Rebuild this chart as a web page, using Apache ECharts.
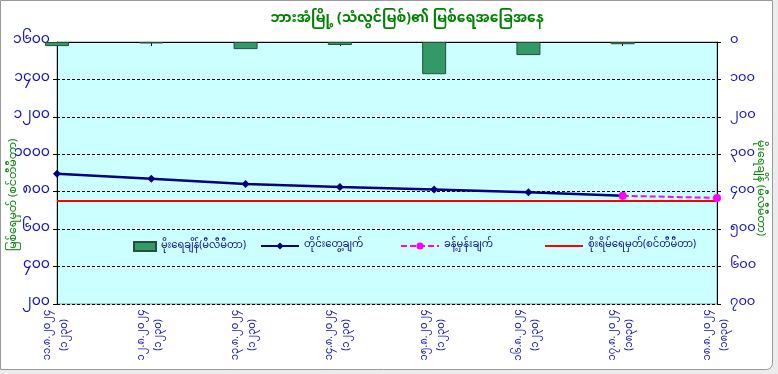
<!DOCTYPE html>
<html>
<head>
<meta charset="utf-8">
<script src="https://cdn.jsdelivr.net/npm/echarts@6/dist/echarts.min.js"></script>
<style>
html,body{margin:0;padding:0;background:#ececec;}
#c{width:778px;height:374px;}
</style>
</head>
<body>
<div id="c"></div>
<script>
// ---- data ----
var dates = ['၁၁.၈.၂၀၂၄','၁၂.၈.၂၀၂၄','၁၃.၈.၂၀၂၄','၁၄.၈.၂၀၂၄','၁၅.၈.၂၀၂၄','၁၆.၈.၂၀၂၄','၁၇.၈.၂၀၂၄','၁၈.၈.၂၀၂၄'];
var times = ['(၁၂၃၀)','(၁၂၃၀)','(၁၂၃၀)','(၁၂၃၀)','(၁၂၃၀)','(၁၂၃၀)','(၁၈၃၀)','(၁၈၃၀)'];
var rainfall = [11, 4, 19, 8, 86, 35, 6, null];
var observed = [896, 869, 841, 825, 812, 797, 778, null];
var forecast = [null, null, null, null, null, null, 778, 767];
var danger = [751, 751, 751, 751, 751, 751, 751, 751];
var seriesNames = ['မိုးရေချိန်(မီလီမီတာ)', 'တိုင်းတွေ့ချက်', 'ခန့်မှန်းချက်', 'စိုးရိမ်ရေမှတ်(စင်တီမီတာ)'];
var titleText = 'ဘားအံမြို့ (သံလွင်မြစ်)၏ မြစ်ရေအခြေအနေ';
var leftAxisName = 'မြစ်ရေမှတ် (စင်တီမီတာ)';
var rightAxisName = 'မိုးရေချိန် (မီလီမီတာ)';

var myDigits = ['၀','၁','၂','၃','၄','၅','၆','၇','၈','၉'];
function toMy(v){ return String(v).replace(/[0-9]/g, function(d){ return myDigits[+d]; }); }
var categories = dates.map(function(d, i){ return d + '\n' + times[i]; });

var FONT = '"Noto Sans Myanmar", "Padauk", "Myanmar Text", "Noto Sans", sans-serif';
var LEG_TEXT = {color: '#0a0a8c', fontSize: 10, fontFamily: FONT};
function legendFor(name, left, w, icon){
  var d = {name: name};
  if (icon) d.icon = icon;
  return {left: left, top: 236, itemWidth: w, itemHeight: 9, itemGap: 8,
          textStyle: LEG_TEXT, data: [d], selectedMode: false};
}
var chart = echarts.init(document.getElementById('c'), null, {renderer:'canvas'});
chart.setOption({
  backgroundColor: '#ececec',
  textStyle: {fontFamily: FONT},
  graphic: [{
    type: 'rect', left: 0, top: 0, z: -10,
    shape: {width: 772, height: 369, r: [0,0,6,0]},
    style: {fill: '#ffffff', stroke: '#9a9a9a', lineWidth: 1}
  }, {
    type: 'text', x: 15, y: 195, rotation: Math.PI/2,
    style: {text: leftAxisName, fill: '#008000', font: '11px ' + FONT, align: 'center', verticalAlign: 'middle'}
  }, {
    type: 'text', x: 759, y: 188, rotation: -Math.PI/2,
    style: {text: rightAxisName, fill: '#008000', font: '11px ' + FONT, align: 'center', verticalAlign: 'middle'}
  }],
  title: {
    text: titleText, left: 402, top: 9, textAlign: 'center',
    textStyle: {color: '#008000', fontSize: 14, fontWeight: 'bold', fontFamily: FONT}
  },
  legend: [
    legendFor(seriesNames[0], 128, 22, 'rect'),
    legendFor(seriesNames[1], 255, 38),
    legendFor(seriesNames[2], 395, 38),
    legendFor(seriesNames[3], 540, 38, 'path://M0,0 H40 V2.2 H0 Z')
  ],
  grid: {left: 57, right: 61, top: 42, bottom: 70, show: true, backgroundColor: '#ccffff', borderColor: '#7f9f8f', borderWidth: 1},
  xAxis: {
    type: 'category', data: categories, boundaryGap: false,
    axisLine: {lineStyle: {color: '#000', width: 1}},
    axisTick: {show: true, length: 4, lineStyle: {color: '#000'}},
    axisLabel: {rotate: 90, align: 'center', verticalAlign: 'middle', color: '#1010c0', fontSize: 10, lineHeight: 17, margin: 31, fontFamily: FONT, interval: 0}
  },
  yAxis: [{
    type: 'value', min: 200, max: 1600, interval: 200, position: 'left',
    axisLine: {show: true, lineStyle: {color: '#000'}},
    axisTick: {show: true, length: 4, lineStyle: {color: '#000'}},
    axisLabel: {color: '#1010c0', fontSize: 14, margin: 7, fontFamily: FONT, formatter: function(v){ return toMy(v); }},
    splitLine: {show: true, lineStyle: {color: '#000', type: [3,2], width: 1}}
  }, {
    type: 'value', min: 0, max: 700, interval: 100, position: 'right', inverse: true,
    axisLine: {show: true, lineStyle: {color: '#000'}},
    axisTick: {show: true, length: 4, lineStyle: {color: '#000'}},
    axisLabel: {color: '#1010c0', fontSize: 13, margin: 13, fontFamily: FONT, formatter: function(v){ return toMy(v); }},
    splitLine: {show: false}
  }],
  series: [{
    name: seriesNames[0], type: 'bar', yAxisIndex: 1, data: rainfall, barWidth: 24, clip: true,
    itemStyle: {color: '#339966', borderColor: '#24503a', borderWidth: 1}
  }, {
    name: seriesNames[1], type: 'line', yAxisIndex: 0, data: observed,
    symbol: 'diamond', symbolSize: 8, lineStyle: {color: '#000080', width: 2.5},
    itemStyle: {color: '#000080'}
  }, {
    name: seriesNames[2], type: 'line', yAxisIndex: 0, data: forecast,
    symbol: 'circle', symbolSize: 8, lineStyle: {color: '#ff00ff', width: 2, type: [6,3]},
    itemStyle: {color: '#ff00ff'}
  }, {
    name: seriesNames[3], type: 'line', yAxisIndex: 0, data: danger,
    symbol: 'none', lineStyle: {color: '#ff0000', width: 2},
    itemStyle: {color: '#ff0000'}
  }],
  animation: false
});
</script>
</body>
</html>
